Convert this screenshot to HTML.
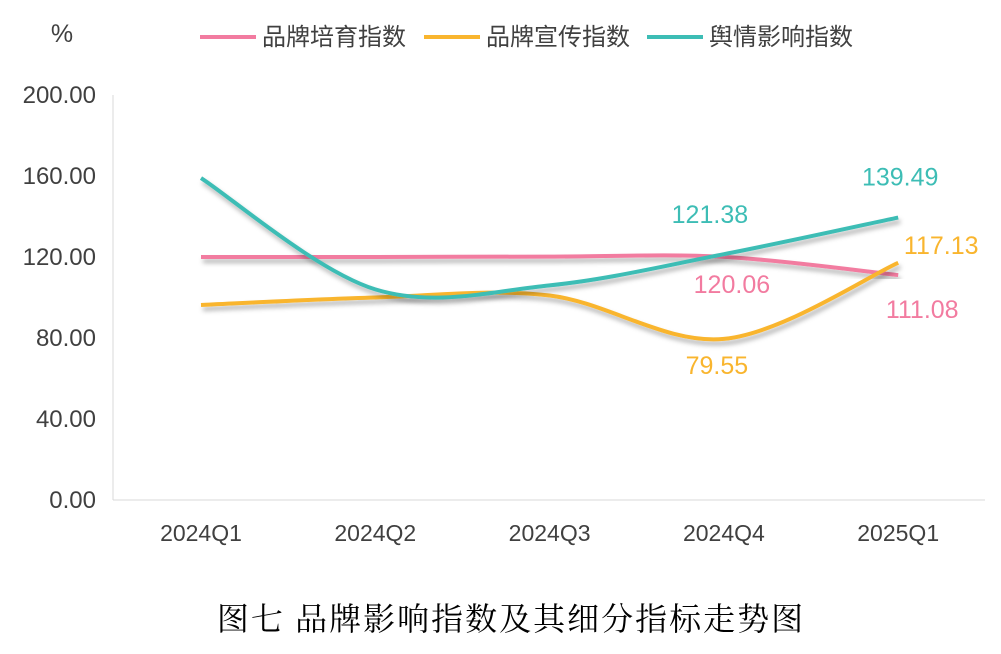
<!DOCTYPE html>
<html><head><meta charset="utf-8"><style>
body{margin:0;background:#fff;}
svg text{font-family:"Liberation Sans","Noto Sans CJK SC",sans-serif;}
</style></head><body>
<svg id="chart" width="1001" height="649" viewBox="0 0 1001 649">
<defs><filter id="sh" x="-10%" y="-20%" width="120%" height="140%"><feDropShadow dx="2" dy="4" stdDeviation="2.5" flood-color="#000" flood-opacity="0.3"/></filter></defs>
<g id="axes"></g><g id="series"></g><g id="labels"></g>
<text x="62" y="42" font-size="25" fill="#404040" text-anchor="middle">%</text>
<text x="511" y="630" font-size="32" fill="#000" text-anchor="middle" style="font-family:'Noto Serif CJK SC',serif;letter-spacing:2px;font-weight:400">图七  品牌影响指数及其细分指标走势图</text>
</svg>
<script>
const categories=["2024Q1","2024Q2","2024Q3","2024Q4","2025Q1"];
const seriesNames=["品牌培育指数","品牌宣传指数","舆情影响指数"];
const cultivation=[120.0,120.0,120.2,120.06,111.08];
const publicity=[96.3,100.0,101.0,79.55,117.13];
const sentiment=[159.0,104.0,106.0,121.38,139.49];
const yTicks=[0,40,80,120,160,200];
const tickLabels=["0.00","40.00","80.00","120.00","160.00","200.00"];
const colors=["#f27ba0","#f9b52e","#3dbdb5"];
const ns="http://www.w3.org/2000/svg";
const x=i=>201+i*174.3;
const y=v=>500-v*(405/200);
function mk(t,a,p){const e=document.createElementNS(ns,t);for(const k in a)e.setAttribute(k,a[k]);p.appendChild(e);return e;}
const ax=document.getElementById('axes');
const base=mk('line',{x1:113,x2:985,y1:500,y2:500,stroke:'#d9d9d9','stroke-width':1},ax);


const vl=mk('line',{x1:113,x2:113,y1:95,y2:500,stroke:'#d9d9d9','stroke-width':1},ax);


yTicks.forEach((v,i)=>{const t=mk('text',{x:96,y:y(v)+8,'font-size':24,fill:'#404040','text-anchor':'end'},ax);t.textContent=tickLabels[i];

});
categories.forEach((c,i)=>{const t=mk('text',{x:x(i),y:541,'font-size':23,fill:'#404040','text-anchor':'middle'},ax);t.textContent=c;

});
function path(vals){const p=vals.map((v,i)=>[x(i),y(v)]);let d=`M${p[0][0]},${p[0][1]}`;const k=1/3;
for(let i=0;i<p.length-1;i++){const p0=p[i-1]||p[i],p1=p[i],p2=p[i+1],p3=p[i+2]||p2;
const c1=[p1[0]+(p2[0]-p0[0])*k/2,p1[1]+(p2[1]-p0[1])*k/2];const c2=[p2[0]-(p3[0]-p1[0])*k/2,p2[1]-(p3[1]-p1[1])*k/2];
d+=` C${c1[0]},${c1[1]} ${c2[0]},${c2[1]} ${p2[0]},${p2[1]}`;}return d;}
const sg=document.getElementById('series');
[cultivation,publicity,sentiment].forEach((s,i)=>{const l=mk('path',{d:path(s),fill:'none',stroke:colors[i],'stroke-width':4,filter:'url(#sh)'},sg);

});
const lx=[200,424,647];
seriesNames.forEach((n,i)=>{const l=mk('line',{x1:lx[i],x2:lx[i]+56,y1:37,y2:37,stroke:colors[i],'stroke-width':4},sg);


const t=mk('text',{x:lx[i]+62,y:45,'font-size':24,fill:'#404040'},sg);t.textContent=n;

});
const lg=document.getElementById('labels');
const lab=[[cultivation,3,8,28],[cultivation,4,24,35],[publicity,3,-7,27],[publicity,4,43,-17],[sentiment,3,-14,-39],[sentiment,4,2,-40]];
lab.forEach(([s,i,dx,dy])=>{const ci=[cultivation,publicity,sentiment].indexOf(s);
const t=mk('text',{x:x(i)+dx,y:y(s[i])+dy+8,'font-size':25,fill:colors[ci],'text-anchor':'middle'},lg);t.textContent=s[i].toFixed(2);

});
</script>
</body></html>
